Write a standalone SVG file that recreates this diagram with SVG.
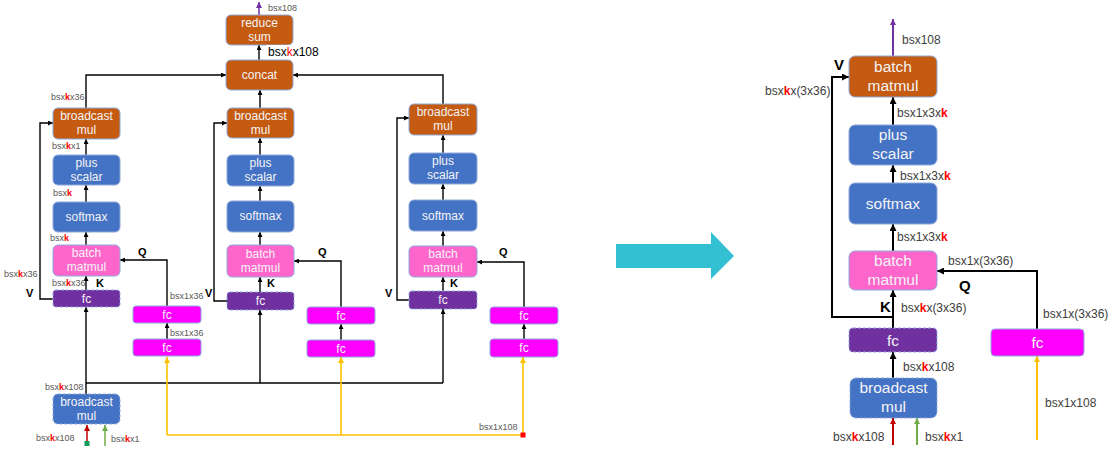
<svg xmlns="http://www.w3.org/2000/svg" width="1118" height="464" viewBox="0 0 1118 464">
<defs>
<style>
.bx{stroke:#8EA9DB;stroke-width:1}
.ds{stroke-dasharray:3 2}
.or{fill:#C55A11}.bl{fill:#4472C4}.pk{fill:#FF66CC}.dp{fill:#7030A0}.mg{fill:#FF00FF}
.t{font-family:"Liberation Sans","Noto Sans",Arial,sans-serif;fill:#F4F4F4;text-anchor:middle;font-size:12px}
.T{font-family:"Liberation Sans","Noto Sans",Arial,sans-serif;fill:#F4F4F4;text-anchor:middle;font-size:15.5px}
.l{font-family:"Liberation Sans","Noto Sans",Arial,sans-serif;fill:#595959;font-size:9px}
.L{font-family:"Liberation Sans","Noto Sans",Arial,sans-serif;fill:#404040;font-size:12px}
.b{font-family:"Liberation Sans","Noto Sans",Arial,sans-serif;fill:#000;font-weight:bold;font-size:11px}
.B{font-family:"Liberation Sans","Noto Sans",Arial,sans-serif;fill:#000;font-weight:bold;font-size:15px}
.k{fill:#FF0000;font-weight:bold}
.c{fill:none;stroke:#000;stroke-width:1.4}
.C{fill:none;stroke:#000;stroke-width:2}
</style>
<marker id="a" markerUnits="userSpaceOnUse" markerWidth="5" markerHeight="5" refX="5" refY="2.5" orient="auto"><path d="M0,0L5,2.5L0,5z" fill="#000"/></marker>
<marker id="A" markerUnits="userSpaceOnUse" markerWidth="7" markerHeight="7" refX="7" refY="3.5" orient="auto"><path d="M0,0L7,3.5L0,7z" fill="#000"/></marker>
<marker id="ap" markerUnits="userSpaceOnUse" markerWidth="6" markerHeight="6" refX="6" refY="3" orient="auto"><path d="M0,0L6,3L0,6z" fill="#7030A0"/></marker>
<marker id="ay" markerUnits="userSpaceOnUse" markerWidth="6" markerHeight="6" refX="6" refY="3" orient="auto"><path d="M0,0L6,3L0,6z" fill="#FFC000"/></marker>
<marker id="ar" markerUnits="userSpaceOnUse" markerWidth="6" markerHeight="6" refX="6" refY="3" orient="auto"><path d="M0,0L6,3L0,6z" fill="#C00000"/></marker>
<marker id="ag" markerUnits="userSpaceOnUse" markerWidth="6" markerHeight="6" refX="6" refY="3" orient="auto"><path d="M0,0L6,3L0,6z" fill="#70AD47"/></marker>
</defs>
<rect width="1118" height="464" fill="#fff"/>

<g id="connectors">
<path d="M259,15V2" stroke="#7030A0" stroke-width="1.5" fill="none" marker-end="url(#ap)"/>
<path class="c" d="M259,60V45" marker-end="url(#a)"/>
<path class="c" d="M86,108V75H226" marker-end="url(#a)"/>
<path class="c" d="M260,108V90" marker-end="url(#a)"/>
<path class="c" d="M443,104V75H293" marker-end="url(#a)"/>
<path class="c" d="M86,155V139" marker-end="url(#a)"/>
<path class="c" d="M260,155V138" marker-end="url(#a)"/>
<path class="c" d="M443,153V135" marker-end="url(#a)"/>
<path class="c" d="M86,202V185" marker-end="url(#a)"/>
<path class="c" d="M260,201V186" marker-end="url(#a)"/>
<path class="c" d="M443,200V184" marker-end="url(#a)"/>
<path class="c" d="M86,245V232" marker-end="url(#a)"/>
<path class="c" d="M260,245V232" marker-end="url(#a)"/>
<path class="c" d="M443,246V231" marker-end="url(#a)"/>
<path class="c" d="M86,290V276" marker-end="url(#a)"/>
<path class="c" d="M260,292V277" marker-end="url(#a)"/>
<path class="c" d="M443,291V277" marker-end="url(#a)"/>
<path class="c" d="M53,299H40V123H53" marker-end="url(#a)"/>
<path class="c" d="M227,301H214V123H227" marker-end="url(#a)"/>
<path class="c" d="M409,300H397V118H409" marker-end="url(#a)"/>
<path class="c" d="M167,306V260H120" marker-end="url(#a)"/>
<path class="c" d="M341,307V261H294" marker-end="url(#a)"/>
<path class="c" d="M524,307V262H477" marker-end="url(#a)"/>
<path class="c" d="M167,339V323" marker-end="url(#a)"/>
<path class="c" d="M341,340V324" marker-end="url(#a)"/>
<path class="c" d="M524,339V324" marker-end="url(#a)"/>
<path class="c" d="M86,394V307" marker-end="url(#a)"/>
<path class="c" d="M86,383H443"/>
<path class="c" d="M260,383V310" marker-end="url(#a)"/>
<path class="c" d="M443,383V309" marker-end="url(#a)"/>
<path d="M167,435H523" stroke="#FFC000" stroke-width="1.6" fill="none"/>
<path d="M167,435V357" stroke="#FFC000" stroke-width="1.6" fill="none" marker-end="url(#ay)"/>
<path d="M341,435V357" stroke="#FFC000" stroke-width="1.6" fill="none" marker-end="url(#ay)"/>
<path d="M523,435V357" stroke="#FFC000" stroke-width="1.6" fill="none" marker-end="url(#ay)"/>
<rect x="520.5" y="432.5" width="5" height="5" fill="#FF0000"/>
<path d="M87,443V425" stroke="#C00000" stroke-width="1.5" fill="none" marker-end="url(#ar)"/>
<rect x="84.5" y="441" width="5" height="5" fill="#119A58"/>
<path d="M105,446V425" stroke="#70AD47" stroke-width="1.5" fill="none" marker-end="url(#ag)"/>

<path d="M616,244H711V232L734,256L711,279V268H616z" fill="#33C0D3"/>

<path d="M893,56V19" stroke="#7030A0" stroke-width="2" fill="none" marker-end="url(#ap)"/>
<path class="C" d="M893,125V97" marker-end="url(#A)"/>
<path class="C" d="M893,183V165" marker-end="url(#A)"/>
<path class="C" d="M893,251V224" marker-end="url(#A)"/>
<path class="C" d="M893,328V290" marker-end="url(#A)"/>
<path class="C" d="M893,317H832V77H849" marker-end="url(#A)"/>
<path class="C" d="M1037,329V271H937" marker-end="url(#A)"/>
<path class="C" d="M893,378V352" marker-end="url(#A)"/>
<path d="M893,445V418" stroke="#C00000" stroke-width="2" fill="none" marker-end="url(#ar)"/>
<path d="M917,445V418" stroke="#70AD47" stroke-width="2" fill="none" marker-end="url(#ag)"/>
<path d="M1037,440V356" stroke="#FFC000" stroke-width="2" fill="none" marker-end="url(#ay)"/>
</g>

<g id="reduce-sum"><rect class="bx or" x="226" y="15" width="67" height="30" rx="5"/><text class="t" x="259.5" y="27">reduce</text><text class="t" x="259.5" y="41">sum</text></g>
<g id="concat"><rect class="bx or" x="226" y="60" width="67" height="30" rx="5"/><text class="t" x="259.5" y="79">concat</text></g>
<g id="bmul-L"><rect class="bx or" x="53" y="108" width="67" height="31" rx="5"/><text class="t" x="86.5" y="120">broadcast</text><text class="t" x="86.5" y="134">mul</text></g>
<g id="bmul-M"><rect class="bx or" x="227" y="108" width="67" height="30" rx="5"/><text class="t" x="260.5" y="120">broadcast</text><text class="t" x="260.5" y="134">mul</text></g>
<g id="bmul-R"><rect class="bx or" x="409" y="104" width="68" height="31" rx="5"/><text class="t" x="443" y="116">broadcast</text><text class="t" x="443" y="130">mul</text></g>
<g id="plus-L"><rect class="bx bl" x="53" y="155" width="67" height="30" rx="5"/><text class="t" x="86.5" y="167">plus</text><text class="t" x="86.5" y="181">scalar</text></g>
<g id="plus-M"><rect class="bx bl" x="227" y="155" width="67" height="31" rx="5"/><text class="t" x="260.5" y="167">plus</text><text class="t" x="260.5" y="181">scalar</text></g>
<g id="plus-R"><rect class="bx bl" x="409" y="153" width="68" height="31" rx="5"/><text class="t" x="443" y="165">plus</text><text class="t" x="443" y="179">scalar</text></g>
<g id="softmax-L"><rect class="bx bl" x="53" y="202" width="67" height="30" rx="5"/><text class="t" x="86.5" y="221">softmax</text></g>
<g id="softmax-M"><rect class="bx bl" x="227" y="201" width="67" height="31" rx="5"/><text class="t" x="260.5" y="220">softmax</text></g>
<g id="softmax-R"><rect class="bx bl" x="409" y="200" width="68" height="31" rx="5"/><text class="t" x="443" y="220">softmax</text></g>
<g id="bmm-L"><rect class="bx pk" x="53" y="245" width="67" height="31" rx="5"/><text class="t" x="86.5" y="257">batch</text><text class="t" x="86.5" y="271">matmul</text></g>
<g id="bmm-M"><rect class="bx pk" x="227" y="245" width="67" height="32" rx="5"/><text class="t" x="260.5" y="258">batch</text><text class="t" x="260.5" y="272">matmul</text></g>
<g id="bmm-R"><rect class="bx pk" x="409" y="246" width="68" height="31" rx="5"/><text class="t" x="443" y="258">batch</text><text class="t" x="443" y="272">matmul</text></g>
<g id="fcv-L"><rect class="bx ds dp" x="53" y="290" width="67" height="17" rx="3"/><text class="t" x="86.5" y="303">fc</text></g>
<g id="fcv-M"><rect class="bx ds dp" x="227" y="292" width="67" height="18" rx="3"/><text class="t" x="260.5" y="305">fc</text></g>
<g id="fcv-R"><rect class="bx ds dp" x="409" y="291" width="68" height="18" rx="3"/><text class="t" x="443" y="304">fc</text></g>
<g id="fcq1-L"><rect class="bx mg" x="133" y="306" width="68" height="17" rx="3"/><text class="t" x="167" y="319">fc</text></g>
<g id="fcq1-M"><rect class="bx mg" x="307" y="307" width="68" height="17" rx="3"/><text class="t" x="341" y="320">fc</text></g>
<g id="fcq1-R"><rect class="bx mg" x="490" y="307" width="68" height="17" rx="3"/><text class="t" x="524" y="320">fc</text></g>
<g id="fcq2-L"><rect class="bx mg" x="133" y="339" width="68" height="17" rx="3"/><text class="t" x="167" y="352">fc</text></g>
<g id="fcq2-M"><rect class="bx mg" x="307" y="340" width="68" height="17" rx="3"/><text class="t" x="341" y="353">fc</text></g>
<g id="fcq2-R"><rect class="bx mg" x="490" y="339" width="68" height="18" rx="3"/><text class="t" x="524" y="352">fc</text></g>
<g id="bmul-in"><rect class="bx ds bl" x="53" y="394" width="67" height="30" rx="5"/><text class="t" x="86.5" y="406">broadcast</text><text class="t" x="86.5" y="420">mul</text></g>

<g id="labels-left">
<text class="l" x="268" y="11">bsx108</text>
<rect x="266" y="45" width="54" height="13" fill="#fff"/>
<text x="268" y="56" font-family="Liberation Sans,Noto Sans,Arial,sans-serif" font-size="12" fill="#000">bsx<tspan fill="#FF0000">k</tspan>x108</text>
<text class="l" x="51" y="100">bsx<tspan class="k">k</tspan>x36</text>
<text class="l" x="52" y="149">bsx<tspan class="k">k</tspan>x1</text>
<text class="l" x="53" y="196">bsx<tspan class="k">k</tspan></text>
<text class="l" x="50" y="241">bsx<tspan class="k">k</tspan></text>
<text class="l" x="4" y="277">bsx<tspan class="k">k</tspan>x36</text>
<text class="l" x="52" y="286">bsx<tspan class="k">k</tspan>x36</text>
<text class="b" x="96" y="287">K</text>
<text class="b" x="138" y="256">Q</text>
<text class="b" x="26" y="297">V</text>
<text class="l" x="170" y="299">bsx1x36</text>
<text class="l" x="170" y="336">bsx1x36</text>
<text class="b" x="205" y="297">V</text>
<text class="b" x="318" y="256">Q</text>
<text class="b" x="267" y="287">K</text>
<text class="b" x="385" y="297">V</text>
<text class="b" x="499" y="256">Q</text>
<text class="b" x="450" y="287">K</text>
<text class="l" x="45" y="390">bsx<tspan class="k">k</tspan>x108</text>
<text class="l" x="36" y="441">bsx<tspan class="k">k</tspan>x108</text>
<text class="l" x="111" y="442">bsx<tspan class="k">k</tspan>x1</text>
<text class="l" x="479" y="430">bsx1x108</text>
</g>

<g id="r-bmm-out"><rect class="bx or" x="849" y="56" width="88" height="41" rx="6"/><text class="T" x="893" y="72">batch</text><text class="T" x="893" y="91">matmul</text></g>
<g id="r-plus"><rect class="bx bl" x="849" y="125" width="88" height="40" rx="6"/><text class="T" x="893" y="140">plus</text><text class="T" x="893" y="159">scalar</text></g>
<g id="r-softmax"><rect class="bx bl" x="849" y="183" width="88" height="41" rx="6"/><text class="T" x="893" y="209">softmax</text></g>
<g id="r-bmm"><rect class="bx pk" x="849" y="251" width="88" height="39" rx="6"/><text class="T" x="893" y="266">batch</text><text class="T" x="893" y="285">matmul</text></g>
<g id="r-fcv"><rect class="bx ds dp" x="849" y="328" width="88" height="24" rx="4"/><text class="T" x="893" y="346">fc</text></g>
<g id="r-fcq"><rect class="bx mg" x="991" y="329" width="93" height="27" rx="4"/><text class="T" x="1037.5" y="348">fc</text></g>
<g id="r-bmul"><rect class="bx ds bl" x="850" y="378" width="87" height="40" rx="6"/><text class="T" x="893.5" y="393">broadcast</text><text class="T" x="893.5" y="412">mul</text></g>

<g id="labels-right">
<text class="L" x="902" y="44">bsx108</text>
<text class="B" x="834" y="70">V</text>
<text class="L" x="765" y="95">bsx<tspan class="k">k</tspan>x(3x36)</text>
<text class="L" x="897" y="117">bsx1x3x<tspan class="k">k</tspan></text>
<text class="L" x="900" y="180">bsx1x3x<tspan class="k">k</tspan></text>
<text class="L" x="897" y="241">bsx1x3x<tspan class="k">k</tspan></text>
<text class="L" x="948" y="265">bsx1x(3x36)</text>
<text class="B" x="959" y="291">Q</text>
<text class="B" x="880" y="312">K</text>
<text class="L" x="901" y="312">bsx<tspan class="k">k</tspan>x(3x36)</text>
<text class="L" x="1043" y="318">bsx1x(3x36)</text>
<text class="L" x="903" y="371">bsx<tspan class="k">k</tspan>x108</text>
<text class="L" x="1045" y="407">bsx1x108</text>
<text class="L" x="833" y="441">bsx<tspan class="k">k</tspan>x108</text>
<text class="L" x="925" y="441">bsx<tspan class="k">k</tspan>x1</text>
</g>
</svg>
